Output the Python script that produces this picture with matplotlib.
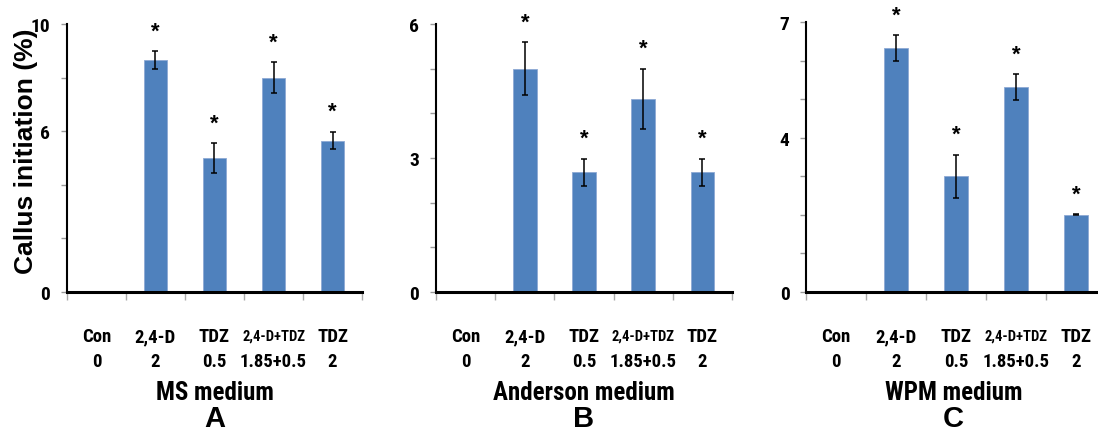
import matplotlib
matplotlib.use("Agg")
import matplotlib.pyplot as plt
import matplotlib.transforms as mtransforms
import numpy as np

# Data
hormones = ['Con', '2,4-D', 'TDZ', '2,4-D+TDZ', 'TDZ']
doses = ['0', '2', '0.5', '1.85+0.5', '2']

ms_mean = [0, 8.65, 5.0, 8.0, 5.65]
ms_err = [0, 0.33, 0.55, 0.57, 0.33]

anderson_mean = [0, 5.0, 2.68, 4.33, 2.68]
anderson_err = [0, 0.59, 0.3, 0.67, 0.3]

wpm_mean = [0, 6.32, 3.0, 5.32, 2.0]
wpm_err = [0, 0.34, 0.56, 0.33, 0.01]

media = ['MS medium', 'Anderson medium', 'WPM medium']
letters = ['A', 'B', 'C']

bar_color = '#4F81BD'
narrow = ['Roboto Condensed', 'Liberation Sans', 'DejaVu Sans']
wide = ['Liberation Sans', 'DejaVu Sans']

fig = plt.figure(figsize=(10.98, 4.39), dpi=100)

# axes placement (left, bottom, width, height) in figure fractions
positions = [
    (0.0610, 0.3326, 0.2687, 0.6105),
    (0.3971, 0.3326, 0.2696, 0.6105),
    (0.7341, 0.3326, 0.2732, 0.6150),
]
panels = [
    (ms_mean, ms_err, 10, np.arange(0, 11, 2), [0, 6, 10]),
    (anderson_mean, anderson_err, 6, np.arange(0, 7, 1), [0, 3, 6]),
    (wpm_mean, wpm_err, 7, np.arange(0, 8, 1), [0, 4, 7]),
]

for i, (pos, (mean, err, ymax, ticks, labeled)) in enumerate(zip(positions, panels)):
    ax = fig.add_axes(pos)
    x = np.arange(1, len(hormones) + 1)
    ax.bar(x, mean, width=0.4, color=bar_color, edgecolor='#8EA9D4', linewidth=0.6, zorder=2)
    has_bar = np.array(mean) > 0
    ax.errorbar(x[has_bar], np.array(mean)[has_bar], yerr=np.array(err)[has_bar],
                fmt='none', ecolor='black', elinewidth=1.1, capsize=2.5, capthick=1.1, zorder=3)
    for xi, m, e in zip(x[has_bar], np.array(mean)[has_bar], np.array(err)[has_bar]):
        ax.annotate('*', xy=(xi, m + e), xytext=(0, 7), textcoords='offset points',
                    ha='center', va='bottom', fontsize=16, fontweight='bold', family=wide)

    ax.set_xlim(0.5, 5.5)
    ax.set_ylim(0, ymax)
    ax.set_yticks(ticks)
    ax.set_yticklabels([str(t) if t in labeled else '' for t in ticks],
                       fontsize=14, fontweight='bold', family=narrow)
    ax.set_xticks(np.arange(0.5, 6.0, 1.0))
    ax.set_xticklabels([])
    ax.tick_params(axis='y', direction='out', length=4, width=1, color='#999999', pad=8)
    ax.tick_params(axis='x', direction='out', length=6, width=1, color='#AAAAAA')

    for s in ['top', 'right']:
        ax.spines[s].set_visible(False)
    ax.spines['left'].set_linewidth(1.5)
    ax.spines['bottom'].set_linewidth(2.2)

    trans = mtransforms.blended_transform_factory(ax.transData, fig.transFigure)
    for xi, h, d in zip(x, hormones, doses):
        fs = 10.5 if '+' in h else 13.5
        ax.text(xi, 0.2323, h, transform=trans, ha='center', va='center',
                fontsize=fs, fontweight='bold', family=narrow)
        ax.text(xi, 0.1754, d, transform=trans, ha='center', va='center',
                fontsize=13.5, fontweight='bold', family=narrow)

    xc = pos[0] + 0.2687 / 2
    fig.text(xc, 0.105, media[i], ha='center', va='center',
             fontsize=18, fontweight='bold', family=narrow)
    fig.text(xc, 0.045, letters[i], ha='center', va='center',
             fontsize=21, fontweight='bold', family=wide)

fig.text(0.0237, 0.656, 'Callus initiation (%)', rotation=90, ha='center', va='center',
         fontsize=19, fontweight='bold', family=wide)

fig.savefig('out.png', dpi=100)
